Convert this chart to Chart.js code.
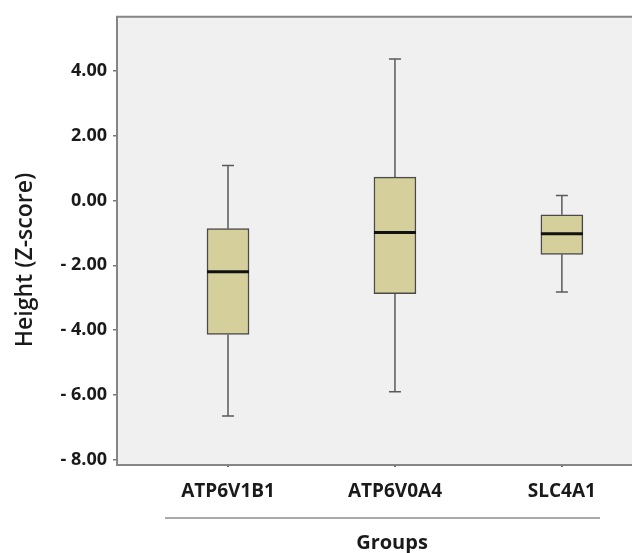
<!DOCTYPE html>
<html>
<head>
<meta charset="utf-8">
<script src="https://cdn.jsdelivr.net/npm/chart.js@4"></script>
<style>
  html, body { margin: 0; padding: 0; background: #fff; }
  canvas { display: block; }
</style>
</head>
<body>
<canvas id="chart" width="632" height="553"></canvas>
<script>
// 그룹 이름
const categories = ['ATP6V1B1', 'ATP6V0A4', 'SLC4A1'];

// 상자그림 값
const whiskerMax = [1.08, 4.36, 0.15];
const q3Values = [-0.87, 0.72, -0.44];
const medians = [-2.20, -0.99, -1.03];
const q1Values = [-4.13, -2.87, -1.66];
const whiskerMin = [-6.64, -5.90, -2.82];

// y축 눈금
const yTicks = [4, 2, 0, -2, -4, -6, -8];

const FONT = '"Open Sans", "Liberation Sans", sans-serif';
const BOX_FILL = '#d5d09b';
const LINE_GRAY = '#5a5a5a';

function formatTick(v) {
    return v < 0 ? '- ' + Math.abs(v).toFixed(2) : v.toFixed(2);
}

// 배경, 테두리, 수염, 중앙값, 축 아래 장식 그리기
const boxPlotPlugin = {
    id: 'boxPlotExtras',
    beforeDraw(chart) {
        const { ctx, chartArea: a } = chart;
        ctx.save();
        ctx.fillStyle = '#fff';
        ctx.fillRect(0, 0, chart.width, chart.height);
        ctx.fillStyle = '#f0f0f0';
        ctx.fillRect(a.left, a.top, a.right - a.left, a.bottom - a.top);
        ctx.restore();
    },
    beforeDatasetsDraw(chart) {
        const { ctx, chartArea: a } = chart;
        ctx.save();
        ctx.strokeStyle = '#858585';
        ctx.lineWidth = 2;
        ctx.beginPath();
        ctx.moveTo(a.right + 2, a.top);
        ctx.lineTo(a.left, a.top);
        ctx.lineTo(a.left, a.bottom);
        ctx.lineTo(a.right + 2, a.bottom);
        ctx.stroke();

        // 수염
        const x = chart.scales.x, y = chart.scales.y;
        ctx.strokeStyle = LINE_GRAY;
        ctx.lineWidth = 1.5;
        categories.forEach((c, i) => {
            const px = x.getPixelForValue(i);
            ctx.beginPath();
            ctx.moveTo(px, y.getPixelForValue(whiskerMax[i]));
            ctx.lineTo(px, y.getPixelForValue(q3Values[i]));
            ctx.moveTo(px, y.getPixelForValue(q1Values[i]));
            ctx.lineTo(px, y.getPixelForValue(whiskerMin[i]));
            ctx.moveTo(px - 6, y.getPixelForValue(whiskerMax[i]));
            ctx.lineTo(px + 6, y.getPixelForValue(whiskerMax[i]));
            ctx.moveTo(px - 6, y.getPixelForValue(whiskerMin[i]));
            ctx.lineTo(px + 6, y.getPixelForValue(whiskerMin[i]));
            ctx.stroke();
        });
        ctx.restore();
    },
    afterDatasetsDraw(chart) {
        const { ctx } = chart;
        const x = chart.scales.x, y = chart.scales.y;
        ctx.save();
        ctx.strokeStyle = '#111';
        ctx.lineWidth = 3;
        categories.forEach((c, i) => {
            const px = x.getPixelForValue(i);
            const py = y.getPixelForValue(medians[i]);
            ctx.beginPath();
            ctx.moveTo(px - 21, py);
            ctx.lineTo(px + 21, py);
            ctx.stroke();
        });
        ctx.restore();
    },
    afterDraw(chart) {
        const { ctx, chartArea: a } = chart;
        ctx.save();
        // 그룹 밑줄
        ctx.strokeStyle = '#555';
        ctx.lineWidth = 1.2;
        ctx.beginPath();
        ctx.moveTo(a.left + 48, 518);
        ctx.lineTo(a.left + 483, 518);
        ctx.stroke();

        ctx.fillStyle = '#1a1a1a';
        ctx.font = 'bold 20px ' + FONT;
        ctx.textAlign = 'center';
        ctx.textBaseline = 'middle';
        ctx.fillText('Groups', 392, 543);

        // y축 제목
        ctx.translate(25, 260);
        ctx.rotate(-Math.PI / 2);
        ctx.font = '600 23px ' + FONT;
        ctx.fillText('Height (Z-score)', 0, 0);
        ctx.restore();
    }
};

const ctx = document.getElementById('chart').getContext('2d');
new Chart(ctx, {
    type: 'bar',
    data: {
        datasets: [{
            data: categories.map((c, i) => ({ x: i, y: [q1Values[i], q3Values[i]] })),
            backgroundColor: BOX_FILL,
            borderColor: '#4a4a4a',
            borderWidth: 1.5,
            borderSkipped: false,
            barThickness: 42,
            grouped: false
        }]
    },
    options: {
        responsive: false,
        animation: false,
        devicePixelRatio: 1,
        layout: { padding: { top: 16, right: 0, left: 0, bottom: 0 } },
        plugins: {
            legend: { display: false },
            tooltip: { enabled: false }
        },
        scales: {
            x: {
                type: 'linear',
                min: -0.665,
                max: 2.42,
                offset: false,
                afterFit(scale) { scale.height = 88; },
                afterBuildTicks(scale) {
                    scale.ticks = categories.map((c, i) => ({ value: i }));
                },
                border: { display: false },
                grid: {
                    offset: false,
                    drawOnChartArea: false,
                    drawTicks: true,
                    tickLength: 2,
                    color: '#666',
                    lineWidth: 2
                },
                ticks: {
                    padding: 13,
                    maxRotation: 0,
                    autoSkip: false,
                    color: '#1a1a1a',
                    font: { family: FONT, size: 19, weight: 'bold' },
                    callback: (v) => categories[v]
                }
            },
            y: {
                min: -8.154,
                max: 5.66,
                afterFit(scale) { scale.width = 117; },
                afterBuildTicks(scale) {
                    scale.ticks = yTicks.map(v => ({ value: v }));
                },
                border: { display: false },
                grid: {
                    drawOnChartArea: false,
                    drawTicks: true,
                    tickLength: 4,
                    color: '#777',
                    lineWidth: 1.5
                },
                ticks: {
                    padding: 6,
                    color: '#1a1a1a',
                    font: { family: FONT, size: 18, weight: 'bold' },
                    callback: (v) => formatTick(v)
                }
            }
        }
    },
    plugins: [boxPlotPlugin]
});
</script>
</body>
</html>
